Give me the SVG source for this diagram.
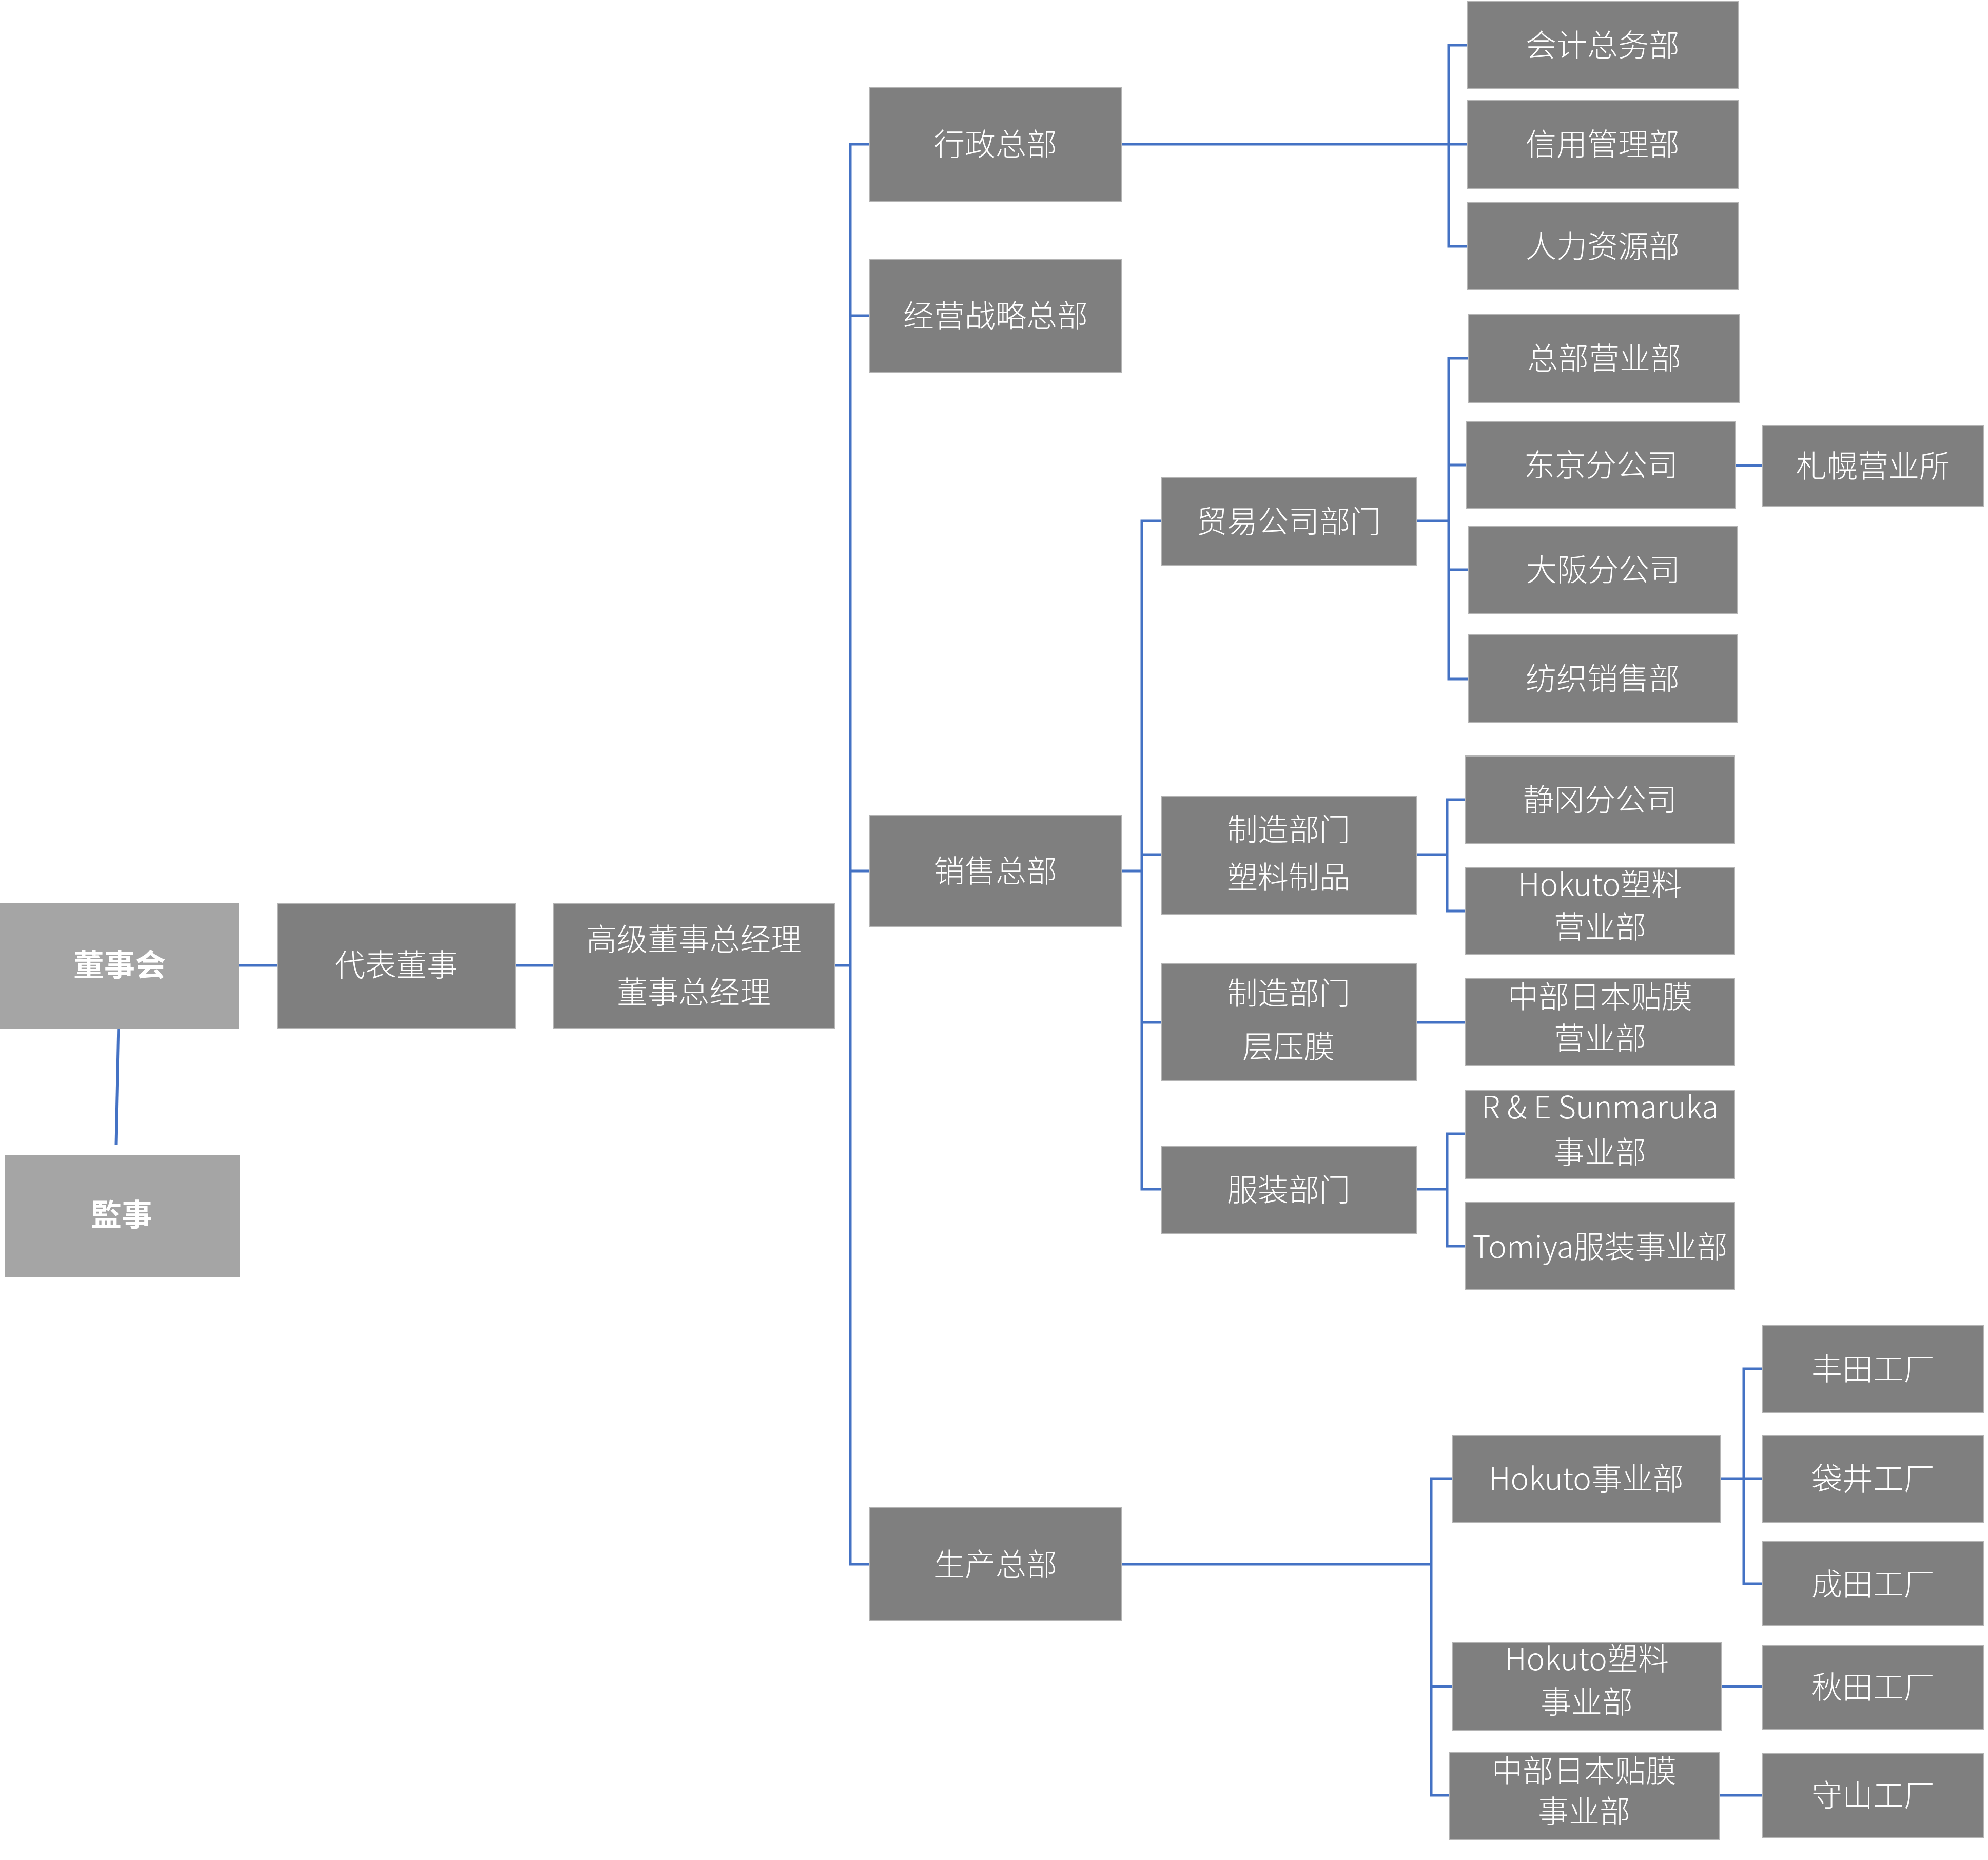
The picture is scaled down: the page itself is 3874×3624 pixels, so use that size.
<svg xmlns="http://www.w3.org/2000/svg" width="3874" height="3624" viewBox="0 0 3874 3624">
<style>
.n{fill:#7f7f7f;stroke:#b4b4b4;stroke-width:2}
.l{fill:#a5a5a5;stroke:none}
.t{fill:#ffffff;font-family:"Noto Sans CJK SC","Noto Sans",sans-serif;font-size:60px;font-weight:300;text-anchor:middle;dominant-baseline:central}
.b{font-weight:bold}
.c{fill:none;stroke:#4472C4;stroke-width:5}
</style>
<rect width="3874" height="3624" fill="#ffffff"/>
<g id="connectors">
<path class="c" d="M466 1881H540M1005 1881H1079M1626 1881H1657"/>
<path class="c" d="M231 1995L226 2231"/>
<path class="c" d="M1695 281H1657V3048H1695M1657 615H1695M1657 1697H1695"/>
<path class="c" d="M2185 281H2823M2860 88H2823V480H2860M2823 281H2860"/>
<path class="c" d="M2185 1697H2225M2263 1015H2225V2317H2263M2225 1665H2263M2225 1992H2263"/>
<path class="c" d="M2760 1015H2823M2862 698H2823V1323H2861M2823 906H2858M2823 1110H2862"/>
<path class="c" d="M3382 907H3434"/>
<path class="c" d="M2760 1665H2820M2856 1558H2820V1775H2856"/>
<path class="c" d="M2760 1992H2856"/>
<path class="c" d="M2760 2317H2820M2856 2209H2820V2428H2856"/>
<path class="c" d="M2185 3048H2789M2830 2881H2789V3498H2825M2789 3286H2830"/>
<path class="c" d="M3353 2881H3398M3434 2667H3398V3086H3434M3398 2881H3434"/>
<path class="c" d="M3354 3286H3434"/>
<path class="c" d="M3350 3498H3434"/>
</g>
<g id="n-board"><rect class="l" x="0" y="1760" width="466" height="244"/><text class="t b" x="233" y="1875">董事会</text></g>
<g id="n-auditor"><rect class="l" x="9" y="2250" width="459" height="238"/><text class="t b" x="237" y="2362">監事</text></g>
<g id="n-rep"><rect class="n" x="540" y="1760" width="465" height="244"/><text class="t" x="772" y="1875">代表董事</text></g>
<g id="n-senior"><rect class="n" x="1079" y="1760" width="547" height="244"/><text class="t" x="1352" y="1825">高级董事总经理</text><text class="t" x="1352" y="1928">董事总经理</text></g>
<g id="n-admin"><rect class="n" x="1695" y="171" width="490" height="221"/><text class="t" x="1940" y="276">行政总部</text></g>
<g id="n-strategy"><rect class="n" x="1695" y="505" width="490" height="220"/><text class="t" x="1940" y="610">经营战略总部</text></g>
<g id="n-sales"><rect class="n" x="1695" y="1588" width="490" height="218"/><text class="t" x="1940" y="1692">销售总部</text></g>
<g id="n-prod"><rect class="n" x="1695" y="2938" width="490" height="219"/><text class="t" x="1940" y="3043">生产总部</text></g>
<g id="n-acct"><rect class="n" x="2860" y="3" width="527" height="170"/><text class="t" x="3123" y="83">会计总务部</text></g>
<g id="n-credit"><rect class="n" x="2860" y="196" width="527" height="171"/><text class="t" x="3123" y="276">信用管理部</text></g>
<g id="n-hr"><rect class="n" x="2860" y="395" width="527" height="170"/><text class="t" x="3123" y="475">人力资源部</text></g>
<g id="n-trade"><rect class="n" x="2263" y="931" width="497" height="170"/><text class="t" x="2511" y="1011">贸易公司部门</text></g>
<g id="n-plastic"><rect class="n" x="2263" y="1552" width="497" height="229"/><text class="t" x="2511" y="1611">制造部门</text><text class="t" x="2511" y="1704">塑料制品</text></g>
<g id="n-laminate"><rect class="n" x="2263" y="1877" width="497" height="229"/><text class="t" x="2511" y="1930">制造部门</text><text class="t" x="2511" y="2034">层压膜</text></g>
<g id="n-apparel"><rect class="n" x="2263" y="2234" width="497" height="169"/><text class="t" x="2511" y="2313">服装部门</text></g>
<g id="n-hqsales"><rect class="n" x="2862" y="612" width="528" height="172"/><text class="t" x="3126" y="693">总部营业部</text></g>
<g id="n-tokyo"><rect class="n" x="2858" y="821" width="524" height="170"/><text class="t" x="3120" y="901">东京分公司</text></g>
<g id="n-sapporo"><rect class="n" x="3434" y="829" width="432" height="158"/><text class="t" x="3650" y="903">札幌营业所</text></g>
<g id="n-osaka"><rect class="n" x="2862" y="1025" width="524" height="171"/><text class="t" x="3124" y="1105">大阪分公司</text></g>
<g id="n-textile"><rect class="n" x="2861" y="1237" width="524" height="171"/><text class="t" x="3123" y="1317">纺织销售部</text></g>
<g id="n-shizuoka"><rect class="n" x="2856" y="1473" width="524" height="170"/><text class="t" x="3118" y="1553">静冈分公司</text></g>
<g id="n-hokutosales"><rect class="n" x="2856" y="1690" width="524" height="170"/><text class="t" x="3118" y="1718">Hokuto塑料</text><text class="t" x="3118" y="1801">营业部</text></g>
<g id="n-chubusales"><rect class="n" x="2856" y="1907" width="524" height="169"/><text class="t" x="3118" y="1937">中部日本贴膜</text><text class="t" x="3118" y="2018">营业部</text></g>
<g id="n-sunmaruka"><rect class="n" x="2856" y="2124" width="524" height="172"/><text class="t" x="3118" y="2152">R &amp; E Sunmaruka</text><text class="t" x="3118" y="2240">事业部</text></g>
<g id="n-tomiya"><rect class="n" x="2856" y="2342" width="524" height="171"/><text class="t" x="3118" y="2424">Tomiya服装事业部</text></g>
<g id="n-hokutobiz"><rect class="n" x="2830" y="2796" width="523" height="170"/><text class="t" x="3091" y="2876">Hokuto事业部</text></g>
<g id="n-hokutoplastic"><rect class="n" x="2830" y="3201" width="524" height="171"/><text class="t" x="3092" y="3227">Hokuto塑料</text><text class="t" x="3092" y="3311">事业部</text></g>
<g id="n-chububiz"><rect class="n" x="2825" y="3414" width="525" height="170"/><text class="t" x="3087" y="3445">中部日本贴膜</text><text class="t" x="3087" y="3524">事业部</text></g>
<g id="n-toyota"><rect class="n" x="3434" y="2582" width="432" height="171"/><text class="t" x="3650" y="2662">丰田工厂</text></g>
<g id="n-fukuroi"><rect class="n" x="3434" y="2796" width="432" height="171"/><text class="t" x="3650" y="2876">袋井工厂</text></g>
<g id="n-narita"><rect class="n" x="3434" y="3004" width="432" height="164"/><text class="t" x="3650" y="3081">成田工厂</text></g>
<g id="n-akita"><rect class="n" x="3434" y="3206" width="432" height="163"/><text class="t" x="3650" y="3282">秋田工厂</text></g>
<g id="n-moriyama"><rect class="n" x="3434" y="3417" width="432" height="163"/><text class="t" x="3650" y="3493">守山工厂</text></g>
</svg>
